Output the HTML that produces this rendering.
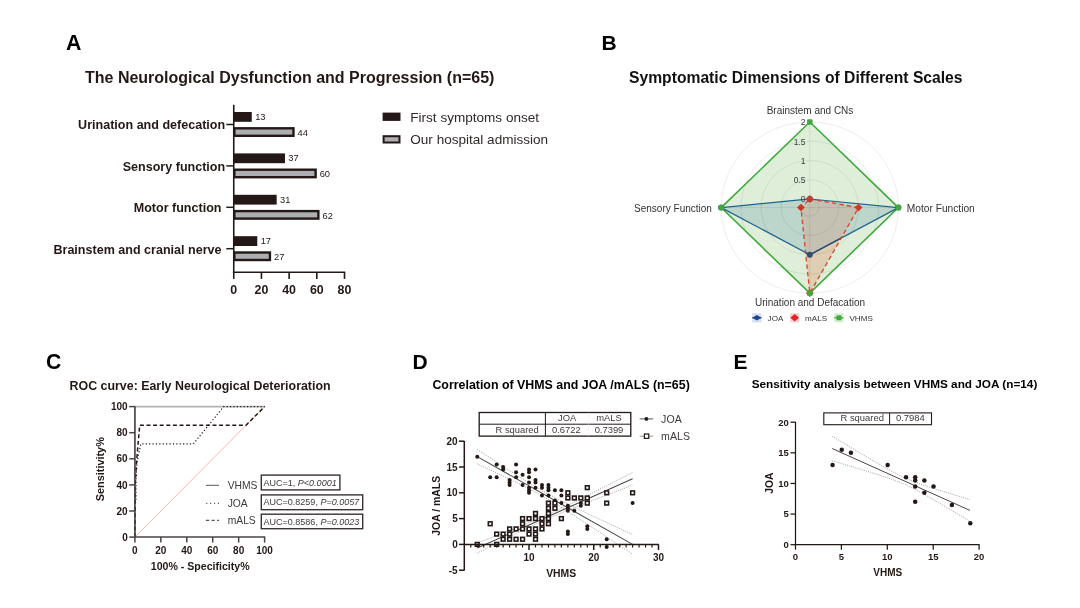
<!DOCTYPE html>
<html><head><meta charset="utf-8"><title>Figure</title>
<style>
html,body{margin:0;padding:0;background:#fff;width:1080px;height:608px;overflow:hidden}
svg{display:block;will-change:transform;filter:blur(0.35px)}
text{font-family:'Liberation Sans', Arial, sans-serif}
</style></head><body>
<svg width="1080" height="608" viewBox="0 0 1080 608">
<rect width="1080" height="608" fill="#fff"/>
<text x="65.90" y="50.20" font-size="21.3" font-weight="bold" fill="#000">A</text>
<text x="85.00" y="83.30" font-size="16" font-weight="bold" fill="#231815">The Neurological Dysfunction and Progression (n=65)</text>
<text x="225.20" y="128.80" font-size="12.55" font-weight="bold" text-anchor="end" fill="#231815">Urination and defecation</text>
<line x1="226.30" y1="124.50" x2="233.75" y2="124.50" stroke="#231815" stroke-width="1.5"/>
<rect x="233.75" y="112.00" width="18.00" height="9.80" fill="#231815" stroke="none" stroke-width="0"/>
<text x="255.15" y="119.90" font-size="9.3" fill="#231815">13</text>
<rect x="234.35" y="128.30" width="59.11" height="7.50" fill="#adaeb2" stroke="#231815" stroke-width="2.4"/>
<text x="297.56" y="135.80" font-size="9.3" fill="#231815">44</text>
<text x="225.20" y="170.80" font-size="12.55" font-weight="bold" text-anchor="end" fill="#231815">Sensory function</text>
<line x1="226.30" y1="165.90" x2="233.75" y2="165.90" stroke="#231815" stroke-width="1.5"/>
<rect x="233.75" y="153.40" width="51.22" height="9.80" fill="#231815" stroke="none" stroke-width="0"/>
<text x="288.37" y="161.30" font-size="9.3" fill="#231815">37</text>
<rect x="234.35" y="169.70" width="81.26" height="7.50" fill="#adaeb2" stroke="#231815" stroke-width="2.4"/>
<text x="319.71" y="177.20" font-size="9.3" fill="#231815">60</text>
<text x="221.50" y="211.90" font-size="12.55" font-weight="bold" text-anchor="end" fill="#231815">Motor function</text>
<line x1="226.30" y1="207.30" x2="233.75" y2="207.30" stroke="#231815" stroke-width="1.5"/>
<rect x="233.75" y="194.80" width="42.92" height="9.80" fill="#231815" stroke="none" stroke-width="0"/>
<text x="280.07" y="202.70" font-size="9.3" fill="#231815">31</text>
<rect x="234.35" y="211.10" width="84.03" height="7.50" fill="#adaeb2" stroke="#231815" stroke-width="2.4"/>
<text x="322.48" y="218.60" font-size="9.3" fill="#231815">62</text>
<text x="221.50" y="253.80" font-size="12.55" font-weight="bold" text-anchor="end" fill="#231815">Brainstem and cranial nerve</text>
<line x1="226.30" y1="248.70" x2="233.75" y2="248.70" stroke="#231815" stroke-width="1.5"/>
<rect x="233.75" y="236.20" width="23.53" height="9.80" fill="#231815" stroke="none" stroke-width="0"/>
<text x="260.68" y="244.10" font-size="9.3" fill="#231815">17</text>
<rect x="234.35" y="252.50" width="35.58" height="7.50" fill="#adaeb2" stroke="#231815" stroke-width="2.4"/>
<text x="274.03" y="260.00" font-size="9.3" fill="#231815">27</text>
<line x1="233.75" y1="104.80" x2="233.75" y2="273.00" stroke="#231815" stroke-width="1.6"/>
<line x1="232.95" y1="272.20" x2="345.20" y2="272.20" stroke="#231815" stroke-width="1.6"/>
<line x1="233.75" y1="272.20" x2="233.75" y2="278.90" stroke="#231815" stroke-width="1.6"/>
<text x="233.75" y="293.60" font-size="12.4" font-weight="bold" text-anchor="middle" fill="#231815">0</text>
<line x1="261.44" y1="272.20" x2="261.44" y2="278.90" stroke="#231815" stroke-width="1.6"/>
<text x="261.44" y="293.60" font-size="12.4" font-weight="bold" text-anchor="middle" fill="#231815">20</text>
<line x1="289.13" y1="272.20" x2="289.13" y2="278.90" stroke="#231815" stroke-width="1.6"/>
<text x="289.13" y="293.60" font-size="12.4" font-weight="bold" text-anchor="middle" fill="#231815">40</text>
<line x1="316.81" y1="272.20" x2="316.81" y2="278.90" stroke="#231815" stroke-width="1.6"/>
<text x="316.81" y="293.60" font-size="12.4" font-weight="bold" text-anchor="middle" fill="#231815">60</text>
<line x1="344.50" y1="272.20" x2="344.50" y2="278.90" stroke="#231815" stroke-width="1.6"/>
<text x="344.50" y="293.60" font-size="12.4" font-weight="bold" text-anchor="middle" fill="#231815">80</text>
<rect x="382.60" y="112.60" width="17.90" height="8.30" fill="#231815" stroke="none" stroke-width="0"/>
<text x="410.30" y="121.70" font-size="13.55" fill="#302a29">First symptoms onset</text>
<rect x="383.60" y="136.20" width="15.90" height="6.30" fill="#adaeb2" stroke="#231815" stroke-width="2.0"/>
<text x="410.30" y="144.10" font-size="13.55" fill="#302a29">Our hospital admission</text>
<text x="601.60" y="50.20" font-size="21" font-weight="bold" fill="#000">B</text>
<text x="629.00" y="83.00" font-size="15.68" font-weight="bold" fill="#111">Symptomatic Dimensions of Different Scales</text>
<defs><clipPath id="cpM"><polygon points="809.80,199.00 858.55,207.60 809.80,293.20 800.90,207.60"/></clipPath></defs>
<polygon points="809.80,122.00 898.40,207.60 809.80,293.20 721.20,207.60" fill="#dfeed9"/>
<polygon points="809.80,199.00 898.40,207.60 809.80,254.70 721.20,207.60" fill="#bcd6cc"/>
<polygon points="809.80,199.00 858.55,207.60 809.80,293.20 800.90,207.60" fill="#dfceb2"/>
<polygon points="809.80,199.00 898.40,207.60 809.80,254.70 721.20,207.60" fill="#c4c1b2" clip-path="url(#cpM)"/>
<ellipse cx="809.8" cy="207.6" rx="8.90" ry="8.60" fill="none" stroke="rgba(0,0,0,0.075)" stroke-width="1"/>
<ellipse cx="809.8" cy="207.6" rx="28.82" ry="27.85" fill="none" stroke="rgba(0,0,0,0.075)" stroke-width="1"/>
<ellipse cx="809.8" cy="207.6" rx="48.75" ry="47.10" fill="none" stroke="rgba(0,0,0,0.075)" stroke-width="1"/>
<ellipse cx="809.8" cy="207.6" rx="68.67" ry="66.35" fill="none" stroke="rgba(0,0,0,0.075)" stroke-width="1"/>
<ellipse cx="809.8" cy="207.6" rx="88.60" ry="85.60" fill="none" stroke="rgba(0,0,0,0.075)" stroke-width="1"/>
<line x1="809.80" y1="122.00" x2="809.80" y2="293.20" stroke="rgba(0,0,0,0.075)" stroke-width="1"/>
<line x1="721.20" y1="207.60" x2="898.40" y2="207.60" stroke="rgba(0,0,0,0.075)" stroke-width="1"/>
<polygon points="809.80,122.00 898.40,207.60 809.80,293.20 721.20,207.60" fill="none" stroke="#3faa3c" stroke-width="1.6"/>
<polygon points="809.80,199.00 898.40,207.60 809.80,254.70 721.20,207.60" fill="none" stroke="#1e628c" stroke-width="1.25"/>
<polygon points="809.80,199.00 898.40,207.60 809.80,254.70 721.20,207.60" fill="none" stroke="#2c4b6c" stroke-width="1.25" clip-path="url(#cpM)"/>
<polygon points="809.80,199.00 858.55,207.60 809.80,293.20 800.90,207.60" fill="none" stroke="#d0462f" stroke-width="1.3" stroke-dasharray="4.5,3"/>
<circle cx="809.80" cy="199.00" r="3.0" fill="#2f4f70"/>
<circle cx="898.40" cy="207.60" r="3.0" fill="#2f4f70"/>
<circle cx="809.80" cy="254.70" r="3.0" fill="#2f4f70"/>
<circle cx="721.20" cy="207.60" r="3.0" fill="#2f4f70"/>
<rect x="807.05" y="196.25" width="5.5" height="5.5" fill="#c93a2c" transform="rotate(45 809.80 199.00)"/>
<rect x="855.80" y="204.85" width="5.5" height="5.5" fill="#c93a2c" transform="rotate(45 858.55 207.60)"/>
<rect x="807.05" y="290.45" width="5.5" height="5.5" fill="#c93a2c" transform="rotate(45 809.80 293.20)"/>
<rect x="798.15" y="204.85" width="5.5" height="5.5" fill="#c93a2c" transform="rotate(45 800.90 207.60)"/>
<rect x="807.10" y="119.30" width="5.4" height="5.4" rx="1" fill="#3faa3c"/>
<rect x="895.70" y="204.90" width="5.4" height="5.4" rx="1" fill="#3faa3c"/>
<rect x="807.10" y="290.50" width="5.4" height="5.4" rx="1" fill="#3faa3c"/>
<rect x="718.50" y="204.90" width="5.4" height="5.4" rx="1" fill="#3faa3c"/>
<text x="805.60" y="125.30" font-size="8.5" text-anchor="end" fill="#3a3a3a">2</text>
<text x="805.60" y="144.55" font-size="8.5" text-anchor="end" fill="#3a3a3a">1.5</text>
<text x="805.60" y="163.80" font-size="8.5" text-anchor="end" fill="#3a3a3a">1</text>
<text x="805.60" y="183.05" font-size="8.5" text-anchor="end" fill="#3a3a3a">0.5</text>
<text x="805.60" y="202.30" font-size="8.5" text-anchor="end" fill="#3a3a3a">0</text>
<text x="810.00" y="114.20" font-size="10" text-anchor="middle" fill="#333333">Brainstem and CNs</text>
<text x="906.80" y="211.60" font-size="10.2" fill="#333333">Motor Function</text>
<text x="711.90" y="211.50" font-size="10" text-anchor="end" fill="#333333">Sensory Function</text>
<text x="810.00" y="305.50" font-size="10" text-anchor="middle" fill="#333333">Urination and Defacation</text>
<rect x="752.20" y="313.20" width="9.30" height="9.20" fill="#d6e0ec" stroke="none" stroke-width="0"/>
<line x1="752.20" y1="317.80" x2="761.50" y2="317.80" stroke="#1d438a" stroke-width="1.2"/>
<polygon points="752.4,317.8 756.9,315.0 761.4,317.8 756.9,320.6" fill="#1d438a"/>
<text x="767.60" y="320.70" font-size="8.1" fill="#333333">JOA</text>
<rect x="790.00" y="313.20" width="9.40" height="9.20" fill="#f7d3d3" stroke="none" stroke-width="0"/>
<polygon points="790.4,317.8 794.7,314.1 799.0,317.8 794.7,321.5" fill="#e3242b"/>
<text x="805.10" y="320.70" font-size="8.1" fill="#333333">mALS</text>
<rect x="834.20" y="313.20" width="9.30" height="9.20" fill="#d8eed6" stroke="none" stroke-width="0"/>
<line x1="834.20" y1="317.80" x2="843.50" y2="317.80" stroke="#3faa3c" stroke-width="1.3"/>
<rect x="836.50" y="315.30" width="5.00" height="5.00" fill="#3faa3c" stroke="none" stroke-width="0"/>
<text x="849.40" y="320.70" font-size="8.1" fill="#333333">VHMS</text>
<text x="45.90" y="369.20" font-size="21.2" font-weight="bold" fill="#000">C</text>
<text x="69.60" y="389.90" font-size="12.4" font-weight="bold" fill="#231815">ROC curve: Early Neurological Deterioration</text>
<path d="M134.90,537.10 L264.60,406.60" stroke="#f3a49a" stroke-width="0.8" fill="none"/>
<path d="M134.90,537.10 L134.90,406.60 L264.60,406.60" stroke="#b3b3b3" stroke-width="1.9" fill="none"/>
<path d="M135.94,499.78 L135.94,481.12 L136.98,462.58 L140.74,443.92 L193.26,443.92 L223.74,406.60 L264.60,406.60" stroke="#231815" stroke-width="1.2" fill="none" stroke-dasharray="1.2,2.2"/>
<path d="M134.90,537.10 L135.42,481.12 L136.46,462.58 L139.70,425.26 L246.05,425.26 L264.60,406.60" stroke="#231815" stroke-width="1.5" fill="none" stroke-dasharray="4,2.6"/>
<line x1="134.90" y1="406.00" x2="134.90" y2="537.90" stroke="#4a4443" stroke-width="1.5"/>
<line x1="134.20" y1="537.10" x2="265.30" y2="537.10" stroke="#4a4443" stroke-width="1.5"/>
<line x1="129.20" y1="537.10" x2="134.90" y2="537.10" stroke="#4a4443" stroke-width="1.5"/>
<text x="127.70" y="540.70" font-size="10" font-weight="bold" text-anchor="end" fill="#231815">0</text>
<line x1="134.90" y1="537.10" x2="134.90" y2="542.60" stroke="#4a4443" stroke-width="1.5"/>
<text x="134.90" y="553.80" font-size="10" font-weight="bold" text-anchor="middle" fill="#231815">0</text>
<line x1="129.20" y1="511.00" x2="134.90" y2="511.00" stroke="#4a4443" stroke-width="1.5"/>
<text x="127.70" y="514.60" font-size="10" font-weight="bold" text-anchor="end" fill="#231815">20</text>
<line x1="160.84" y1="537.10" x2="160.84" y2="542.60" stroke="#4a4443" stroke-width="1.5"/>
<text x="160.84" y="553.80" font-size="10" font-weight="bold" text-anchor="middle" fill="#231815">20</text>
<line x1="129.20" y1="484.90" x2="134.90" y2="484.90" stroke="#4a4443" stroke-width="1.5"/>
<text x="127.70" y="488.50" font-size="10" font-weight="bold" text-anchor="end" fill="#231815">40</text>
<line x1="186.78" y1="537.10" x2="186.78" y2="542.60" stroke="#4a4443" stroke-width="1.5"/>
<text x="186.78" y="553.80" font-size="10" font-weight="bold" text-anchor="middle" fill="#231815">40</text>
<line x1="129.20" y1="458.80" x2="134.90" y2="458.80" stroke="#4a4443" stroke-width="1.5"/>
<text x="127.70" y="462.40" font-size="10" font-weight="bold" text-anchor="end" fill="#231815">60</text>
<line x1="212.72" y1="537.10" x2="212.72" y2="542.60" stroke="#4a4443" stroke-width="1.5"/>
<text x="212.72" y="553.80" font-size="10" font-weight="bold" text-anchor="middle" fill="#231815">60</text>
<line x1="129.20" y1="432.70" x2="134.90" y2="432.70" stroke="#4a4443" stroke-width="1.5"/>
<text x="127.70" y="436.30" font-size="10" font-weight="bold" text-anchor="end" fill="#231815">80</text>
<line x1="238.66" y1="537.10" x2="238.66" y2="542.60" stroke="#4a4443" stroke-width="1.5"/>
<text x="238.66" y="553.80" font-size="10" font-weight="bold" text-anchor="middle" fill="#231815">80</text>
<line x1="129.20" y1="406.60" x2="134.90" y2="406.60" stroke="#4a4443" stroke-width="1.5"/>
<text x="127.70" y="410.20" font-size="10" font-weight="bold" text-anchor="end" fill="#231815">100</text>
<line x1="264.60" y1="537.10" x2="264.60" y2="542.60" stroke="#4a4443" stroke-width="1.5"/>
<text x="264.60" y="553.80" font-size="10" font-weight="bold" text-anchor="middle" fill="#231815">100</text>
<text x="200.20" y="569.80" font-size="10.6" font-weight="bold" text-anchor="middle" fill="#231815">100% - Specificity%</text>
<text x="103.60" y="469.20" font-size="10.9" font-weight="bold" text-anchor="middle" fill="#231815" transform="rotate(-90 103.6 469.2)">Sensitivity%</text>
<line x1="205.90" y1="485.30" x2="219.00" y2="485.30" stroke="#555" stroke-width="1.0"/>
<line x1="206.20" y1="503.30" x2="219.00" y2="503.30" stroke="#555" stroke-width="1.2" stroke-dasharray="1.1,2.8"/>
<line x1="205.90" y1="520.40" x2="219.00" y2="520.40" stroke="#555" stroke-width="1.3" stroke-dasharray="3.2,2.4"/>
<text x="227.70" y="489.30" font-size="10.3" fill="#3e3a39">VHMS</text>
<text x="227.70" y="506.80" font-size="10.3" fill="#3e3a39">JOA</text>
<text x="227.70" y="524.10" font-size="10.3" fill="#3e3a39">mALS</text>
<rect x="261.30" y="475.10" width="78.60" height="14.80" fill="none" stroke="#3a3332" stroke-width="1.4"/>
<rect x="261.30" y="494.90" width="101.40" height="14.80" fill="none" stroke="#3a3332" stroke-width="1.4"/>
<rect x="261.30" y="514.20" width="101.40" height="14.50" fill="none" stroke="#3a3332" stroke-width="1.4"/>
<text x="263.60" y="485.60" font-size="9.0" fill="#3e3a39">AUC=1, <tspan font-style="italic">P&lt;0.0001</tspan></text>
<text x="263.60" y="505.40" font-size="9.0" fill="#3e3a39">AUC=0.8259, <tspan font-style="italic">P=0.0057</tspan></text>
<text x="263.60" y="524.60" font-size="9.0" fill="#3e3a39">AUC=0.8586, <tspan font-style="italic">P=0.0023</tspan></text>
<text x="412.40" y="369.00" font-size="21" font-weight="bold" fill="#000">D</text>
<text x="432.40" y="389.40" font-size="12.4" font-weight="bold" fill="#000">Correlation of VHMS and JOA /mALS (n=65)</text>
<rect x="479.20" y="412.50" width="151.60" height="23.60" fill="none" stroke="#231815" stroke-width="1.3"/>
<line x1="479.20" y1="424.20" x2="630.80" y2="424.20" stroke="#231815" stroke-width="1.0"/>
<line x1="545.40" y1="412.50" x2="545.40" y2="436.10" stroke="#231815" stroke-width="1.0"/>
<line x1="588.60" y1="412.50" x2="588.60" y2="436.10" stroke="#e8e8e8" stroke-width="0.5"/>
<text x="538.80" y="432.70" font-size="9.4" text-anchor="end" fill="#3e3a39">R squared</text>
<text x="567.20" y="421.10" font-size="9.4" text-anchor="middle" fill="#3e3a39">JOA</text>
<text x="609.00" y="421.10" font-size="9.4" text-anchor="middle" fill="#3e3a39">mALS</text>
<text x="566.40" y="432.70" font-size="9.4" text-anchor="middle" fill="#3e3a39">0.6722</text>
<text x="609.00" y="432.70" font-size="9.4" text-anchor="middle" fill="#3e3a39">0.7399</text>
<line x1="639.70" y1="418.90" x2="653.20" y2="418.90" stroke="#555" stroke-width="1.0"/>
<circle cx="646.4" cy="418.9" r="1.9" fill="#231815"/>
<text x="661.10" y="423.10" font-size="10.6" fill="#3e3a39">JOA</text>
<line x1="639.70" y1="436.20" x2="653.20" y2="436.20" stroke="#999" stroke-width="1.0"/>
<rect x="644.40" y="434.00" width="4.40" height="4.40" fill="white" stroke="#231815" stroke-width="1.2"/>
<text x="661.10" y="439.80" font-size="10.6" fill="#3e3a39">mALS</text>
<path d="M477.25,449.44 L482.42,452.86 L487.60,456.28 L492.78,459.69 L497.96,463.09 L503.14,466.47 L508.32,469.84 L513.49,473.18 L518.67,476.50 L523.85,479.77 L529.03,482.97 L534.21,486.10 L539.39,489.14 L544.57,492.06 L549.74,494.87 L554.92,497.59 L560.10,500.22 L565.28,502.80 L570.46,505.33 L575.64,507.83 L580.81,510.31 L585.99,512.77 L591.17,515.22 L596.35,517.65 L601.53,520.08 L606.71,522.50 L611.88,524.92 L617.06,527.33 L622.24,529.74 L627.42,532.14 L632.60,534.55" stroke="#8a8a8a" stroke-width="0.8" fill="none" stroke-dasharray="1,1.2"/>
<path d="M477.25,463.88 L482.42,466.30 L487.60,468.73 L492.78,471.17 L497.96,473.61 L503.14,476.07 L508.32,478.55 L513.49,481.05 L518.67,483.58 L523.85,486.16 L529.03,488.80 L534.21,491.51 L539.39,494.32 L544.57,497.25 L549.74,500.28 L554.92,503.41 L560.10,506.62 L565.28,509.89 L570.46,513.20 L575.64,516.54 L580.81,519.91 L585.99,523.30 L591.17,526.70 L596.35,530.11 L601.53,533.52 L606.71,536.95 L611.88,540.38 L617.06,543.81 L622.24,547.25 L627.42,550.69 L632.60,554.13" stroke="#8a8a8a" stroke-width="0.8" fill="none" stroke-dasharray="1,1.2"/>
<path d="M477.25,543.05 L482.42,541.05 L487.60,539.06 L492.78,537.06 L497.96,535.05 L503.14,533.03 L508.32,531.00 L513.49,528.95 L518.67,526.88 L523.85,524.79 L529.03,522.66 L534.21,520.50 L539.39,518.28 L544.57,516.01 L549.74,513.68 L554.92,511.30 L560.10,508.86 L565.28,506.38 L570.46,503.86 L575.64,501.32 L580.81,498.76 L585.99,496.18 L591.17,493.58 L596.35,490.98 L601.53,488.37 L606.71,485.75 L611.88,483.13 L617.06,480.50 L622.24,477.87 L627.42,475.24 L632.60,472.60" stroke="#8a8a8a" stroke-width="0.8" fill="none" stroke-dasharray="1,1.2"/>
<path d="M477.25,553.10 L482.42,550.48 L487.60,547.86 L492.78,545.25 L497.96,542.64 L503.14,540.05 L508.32,537.46 L513.49,534.89 L518.67,532.35 L523.85,529.82 L529.03,527.33 L534.21,524.88 L539.39,522.48 L544.57,520.14 L549.74,517.85 L554.92,515.63 L560.10,513.45 L565.28,511.31 L570.46,509.21 L575.64,507.14 L580.81,505.09 L585.99,503.05 L591.17,501.03 L596.35,499.02 L601.53,497.02 L606.71,495.02 L611.88,493.03 L617.06,491.04 L622.24,489.05 L627.42,487.07 L632.60,485.09" stroke="#8a8a8a" stroke-width="0.8" fill="none" stroke-dasharray="1,1.2"/>
<path d="M477.25,456.66 L632.60,544.34" stroke="#4a4545" stroke-width="1.05" fill="none"/>
<path d="M477.25,548.07 L632.60,478.85" stroke="#4a4545" stroke-width="1.05" fill="none"/>
<circle cx="522.56" cy="518.60" r="2.0" fill="#231815"/>
<circle cx="477.25" cy="456.68" r="2.0" fill="#231815"/>
<circle cx="490.19" cy="477.32" r="2.0" fill="#231815"/>
<circle cx="496.67" cy="464.42" r="2.0" fill="#231815"/>
<circle cx="496.67" cy="477.32" r="2.0" fill="#231815"/>
<circle cx="503.14" cy="467.00" r="2.0" fill="#231815"/>
<circle cx="503.14" cy="469.58" r="2.0" fill="#231815"/>
<circle cx="509.61" cy="479.90" r="2.0" fill="#231815"/>
<circle cx="509.61" cy="482.48" r="2.0" fill="#231815"/>
<circle cx="509.61" cy="485.06" r="2.0" fill="#231815"/>
<circle cx="516.08" cy="464.42" r="2.0" fill="#231815"/>
<circle cx="516.08" cy="472.16" r="2.0" fill="#231815"/>
<circle cx="516.08" cy="477.32" r="2.0" fill="#231815"/>
<circle cx="522.56" cy="474.74" r="2.0" fill="#231815"/>
<circle cx="522.56" cy="485.06" r="2.0" fill="#231815"/>
<circle cx="529.03" cy="469.58" r="2.0" fill="#231815"/>
<circle cx="529.03" cy="472.16" r="2.0" fill="#231815"/>
<circle cx="529.03" cy="477.32" r="2.0" fill="#231815"/>
<circle cx="529.03" cy="482.48" r="2.0" fill="#231815"/>
<circle cx="529.03" cy="487.64" r="2.0" fill="#231815"/>
<circle cx="529.03" cy="490.22" r="2.0" fill="#231815"/>
<circle cx="529.03" cy="492.80" r="2.0" fill="#231815"/>
<circle cx="535.50" cy="469.58" r="2.0" fill="#231815"/>
<circle cx="535.50" cy="479.90" r="2.0" fill="#231815"/>
<circle cx="535.50" cy="482.48" r="2.0" fill="#231815"/>
<circle cx="535.50" cy="487.64" r="2.0" fill="#231815"/>
<circle cx="541.98" cy="485.06" r="2.0" fill="#231815"/>
<circle cx="541.98" cy="487.64" r="2.0" fill="#231815"/>
<circle cx="541.98" cy="495.38" r="2.0" fill="#231815"/>
<circle cx="548.45" cy="485.06" r="2.0" fill="#231815"/>
<circle cx="548.45" cy="487.64" r="2.0" fill="#231815"/>
<circle cx="548.45" cy="490.22" r="2.0" fill="#231815"/>
<circle cx="548.45" cy="495.38" r="2.0" fill="#231815"/>
<circle cx="554.92" cy="490.22" r="2.0" fill="#231815"/>
<circle cx="554.92" cy="500.54" r="2.0" fill="#231815"/>
<circle cx="561.39" cy="490.22" r="2.0" fill="#231815"/>
<circle cx="561.39" cy="495.38" r="2.0" fill="#231815"/>
<circle cx="561.39" cy="503.12" r="2.0" fill="#231815"/>
<circle cx="567.87" cy="505.70" r="2.0" fill="#231815"/>
<circle cx="567.87" cy="508.28" r="2.0" fill="#231815"/>
<circle cx="567.87" cy="510.86" r="2.0" fill="#231815"/>
<circle cx="567.87" cy="531.50" r="2.0" fill="#231815"/>
<circle cx="567.87" cy="534.08" r="2.0" fill="#231815"/>
<circle cx="574.34" cy="510.86" r="2.0" fill="#231815"/>
<circle cx="580.81" cy="503.12" r="2.0" fill="#231815"/>
<circle cx="580.81" cy="505.70" r="2.0" fill="#231815"/>
<circle cx="587.29" cy="526.34" r="2.0" fill="#231815"/>
<circle cx="587.29" cy="528.92" r="2.0" fill="#231815"/>
<circle cx="606.71" cy="539.24" r="2.0" fill="#231815"/>
<circle cx="606.71" cy="546.98" r="2.0" fill="#231815"/>
<circle cx="632.60" cy="503.12" r="2.0" fill="#231815"/>
<rect x="475.40" y="542.55" width="3.7" height="3.7" fill="white" stroke="#231815" stroke-width="1.6"/>
<rect x="488.34" y="521.91" width="3.7" height="3.7" fill="white" stroke="#231815" stroke-width="1.6"/>
<rect x="494.81" y="532.23" width="3.7" height="3.7" fill="white" stroke="#231815" stroke-width="1.6"/>
<rect x="494.81" y="542.55" width="3.7" height="3.7" fill="white" stroke="#231815" stroke-width="1.6"/>
<rect x="501.29" y="532.23" width="3.7" height="3.7" fill="white" stroke="#231815" stroke-width="1.6"/>
<rect x="501.29" y="537.39" width="3.7" height="3.7" fill="white" stroke="#231815" stroke-width="1.6"/>
<rect x="507.76" y="527.07" width="3.7" height="3.7" fill="white" stroke="#231815" stroke-width="1.6"/>
<rect x="507.76" y="532.23" width="3.7" height="3.7" fill="white" stroke="#231815" stroke-width="1.6"/>
<rect x="507.76" y="537.39" width="3.7" height="3.7" fill="white" stroke="#231815" stroke-width="1.6"/>
<rect x="514.23" y="527.07" width="3.7" height="3.7" fill="white" stroke="#231815" stroke-width="1.6"/>
<rect x="514.23" y="537.39" width="3.7" height="3.7" fill="white" stroke="#231815" stroke-width="1.6"/>
<rect x="520.71" y="516.75" width="3.7" height="3.7" fill="white" stroke="#231815" stroke-width="1.6"/>
<rect x="520.71" y="521.91" width="3.7" height="3.7" fill="white" stroke="#231815" stroke-width="1.6"/>
<rect x="520.71" y="527.07" width="3.7" height="3.7" fill="white" stroke="#231815" stroke-width="1.6"/>
<rect x="520.71" y="537.39" width="3.7" height="3.7" fill="white" stroke="#231815" stroke-width="1.6"/>
<rect x="527.18" y="516.75" width="3.7" height="3.7" fill="white" stroke="#231815" stroke-width="1.6"/>
<rect x="527.18" y="527.07" width="3.7" height="3.7" fill="white" stroke="#231815" stroke-width="1.6"/>
<rect x="527.18" y="532.23" width="3.7" height="3.7" fill="white" stroke="#231815" stroke-width="1.6"/>
<rect x="533.65" y="511.59" width="3.7" height="3.7" fill="white" stroke="#231815" stroke-width="1.6"/>
<rect x="533.65" y="516.75" width="3.7" height="3.7" fill="white" stroke="#231815" stroke-width="1.6"/>
<rect x="533.65" y="527.07" width="3.7" height="3.7" fill="white" stroke="#231815" stroke-width="1.6"/>
<rect x="533.65" y="532.23" width="3.7" height="3.7" fill="white" stroke="#231815" stroke-width="1.6"/>
<rect x="533.65" y="537.39" width="3.7" height="3.7" fill="white" stroke="#231815" stroke-width="1.6"/>
<rect x="540.13" y="516.75" width="3.7" height="3.7" fill="white" stroke="#231815" stroke-width="1.6"/>
<rect x="540.13" y="521.91" width="3.7" height="3.7" fill="white" stroke="#231815" stroke-width="1.6"/>
<rect x="540.13" y="527.07" width="3.7" height="3.7" fill="white" stroke="#231815" stroke-width="1.6"/>
<rect x="546.60" y="501.27" width="3.7" height="3.7" fill="white" stroke="#231815" stroke-width="1.6"/>
<rect x="546.60" y="506.43" width="3.7" height="3.7" fill="white" stroke="#231815" stroke-width="1.6"/>
<rect x="546.60" y="511.59" width="3.7" height="3.7" fill="white" stroke="#231815" stroke-width="1.6"/>
<rect x="546.60" y="516.75" width="3.7" height="3.7" fill="white" stroke="#231815" stroke-width="1.6"/>
<rect x="546.60" y="521.91" width="3.7" height="3.7" fill="white" stroke="#231815" stroke-width="1.6"/>
<rect x="553.07" y="501.27" width="3.7" height="3.7" fill="white" stroke="#231815" stroke-width="1.6"/>
<rect x="553.07" y="506.43" width="3.7" height="3.7" fill="white" stroke="#231815" stroke-width="1.6"/>
<rect x="559.54" y="516.75" width="3.7" height="3.7" fill="white" stroke="#231815" stroke-width="1.6"/>
<rect x="566.02" y="490.95" width="3.7" height="3.7" fill="white" stroke="#231815" stroke-width="1.6"/>
<rect x="566.02" y="496.11" width="3.7" height="3.7" fill="white" stroke="#231815" stroke-width="1.6"/>
<rect x="572.49" y="496.11" width="3.7" height="3.7" fill="white" stroke="#231815" stroke-width="1.6"/>
<rect x="578.96" y="496.11" width="3.7" height="3.7" fill="white" stroke="#231815" stroke-width="1.6"/>
<rect x="585.44" y="485.79" width="3.7" height="3.7" fill="white" stroke="#231815" stroke-width="1.6"/>
<rect x="585.44" y="496.11" width="3.7" height="3.7" fill="white" stroke="#231815" stroke-width="1.6"/>
<rect x="585.44" y="501.27" width="3.7" height="3.7" fill="white" stroke="#231815" stroke-width="1.6"/>
<rect x="604.86" y="490.95" width="3.7" height="3.7" fill="white" stroke="#231815" stroke-width="1.6"/>
<rect x="604.86" y="501.27" width="3.7" height="3.7" fill="white" stroke="#231815" stroke-width="1.6"/>
<rect x="630.75" y="490.95" width="3.7" height="3.7" fill="white" stroke="#231815" stroke-width="1.6"/>
<line x1="464.30" y1="441.00" x2="464.30" y2="570.60" stroke="#231815" stroke-width="1.5"/>
<line x1="459.00" y1="441.20" x2="464.30" y2="441.20" stroke="#231815" stroke-width="1.5"/>
<text x="457.70" y="444.80" font-size="10" font-weight="bold" text-anchor="end" fill="#231815">20</text>
<line x1="459.00" y1="467.00" x2="464.30" y2="467.00" stroke="#231815" stroke-width="1.5"/>
<text x="457.70" y="470.60" font-size="10" font-weight="bold" text-anchor="end" fill="#231815">15</text>
<line x1="459.00" y1="492.80" x2="464.30" y2="492.80" stroke="#231815" stroke-width="1.5"/>
<text x="457.70" y="496.40" font-size="10" font-weight="bold" text-anchor="end" fill="#231815">10</text>
<line x1="459.00" y1="518.60" x2="464.30" y2="518.60" stroke="#231815" stroke-width="1.5"/>
<text x="457.70" y="522.20" font-size="10" font-weight="bold" text-anchor="end" fill="#231815">5</text>
<line x1="459.00" y1="544.40" x2="464.30" y2="544.40" stroke="#231815" stroke-width="1.5"/>
<text x="457.70" y="548.00" font-size="10" font-weight="bold" text-anchor="end" fill="#231815">0</text>
<line x1="459.00" y1="570.20" x2="464.30" y2="570.20" stroke="#231815" stroke-width="1.5"/>
<text x="457.70" y="573.80" font-size="10" font-weight="bold" text-anchor="end" fill="#231815">-5</text>
<line x1="464.30" y1="544.40" x2="658.90" y2="544.40" stroke="#231815" stroke-width="1.5"/>
<line x1="470.77" y1="544.40" x2="470.77" y2="547.50" stroke="#231815" stroke-width="1.2"/>
<line x1="477.25" y1="544.40" x2="477.25" y2="547.50" stroke="#231815" stroke-width="1.2"/>
<line x1="483.72" y1="544.40" x2="483.72" y2="547.50" stroke="#231815" stroke-width="1.2"/>
<line x1="490.19" y1="544.40" x2="490.19" y2="547.50" stroke="#231815" stroke-width="1.2"/>
<line x1="496.67" y1="544.40" x2="496.67" y2="547.50" stroke="#231815" stroke-width="1.2"/>
<line x1="503.14" y1="544.40" x2="503.14" y2="547.50" stroke="#231815" stroke-width="1.2"/>
<line x1="509.61" y1="544.40" x2="509.61" y2="547.50" stroke="#231815" stroke-width="1.2"/>
<line x1="516.08" y1="544.40" x2="516.08" y2="547.50" stroke="#231815" stroke-width="1.2"/>
<line x1="522.56" y1="544.40" x2="522.56" y2="547.50" stroke="#231815" stroke-width="1.2"/>
<line x1="529.03" y1="544.40" x2="529.03" y2="550.00" stroke="#231815" stroke-width="1.5"/>
<line x1="535.50" y1="544.40" x2="535.50" y2="547.50" stroke="#231815" stroke-width="1.2"/>
<line x1="541.98" y1="544.40" x2="541.98" y2="547.50" stroke="#231815" stroke-width="1.2"/>
<line x1="548.45" y1="544.40" x2="548.45" y2="547.50" stroke="#231815" stroke-width="1.2"/>
<line x1="554.92" y1="544.40" x2="554.92" y2="547.50" stroke="#231815" stroke-width="1.2"/>
<line x1="561.39" y1="544.40" x2="561.39" y2="547.50" stroke="#231815" stroke-width="1.2"/>
<line x1="567.87" y1="544.40" x2="567.87" y2="547.50" stroke="#231815" stroke-width="1.2"/>
<line x1="574.34" y1="544.40" x2="574.34" y2="547.50" stroke="#231815" stroke-width="1.2"/>
<line x1="580.81" y1="544.40" x2="580.81" y2="547.50" stroke="#231815" stroke-width="1.2"/>
<line x1="587.29" y1="544.40" x2="587.29" y2="547.50" stroke="#231815" stroke-width="1.2"/>
<line x1="593.76" y1="544.40" x2="593.76" y2="550.00" stroke="#231815" stroke-width="1.5"/>
<line x1="600.23" y1="544.40" x2="600.23" y2="547.50" stroke="#231815" stroke-width="1.2"/>
<line x1="606.71" y1="544.40" x2="606.71" y2="547.50" stroke="#231815" stroke-width="1.2"/>
<line x1="613.18" y1="544.40" x2="613.18" y2="547.50" stroke="#231815" stroke-width="1.2"/>
<line x1="619.65" y1="544.40" x2="619.65" y2="547.50" stroke="#231815" stroke-width="1.2"/>
<line x1="626.12" y1="544.40" x2="626.12" y2="547.50" stroke="#231815" stroke-width="1.2"/>
<line x1="632.60" y1="544.40" x2="632.60" y2="547.50" stroke="#231815" stroke-width="1.2"/>
<line x1="639.07" y1="544.40" x2="639.07" y2="547.50" stroke="#231815" stroke-width="1.2"/>
<line x1="645.54" y1="544.40" x2="645.54" y2="547.50" stroke="#231815" stroke-width="1.2"/>
<line x1="652.02" y1="544.40" x2="652.02" y2="547.50" stroke="#231815" stroke-width="1.2"/>
<line x1="658.49" y1="544.40" x2="658.49" y2="550.00" stroke="#231815" stroke-width="1.5"/>
<text x="529.03" y="560.90" font-size="10" font-weight="bold" text-anchor="middle" fill="#231815">10</text>
<text x="593.76" y="560.90" font-size="10" font-weight="bold" text-anchor="middle" fill="#231815">20</text>
<text x="658.49" y="560.90" font-size="10" font-weight="bold" text-anchor="middle" fill="#231815">30</text>
<text x="561.20" y="577.00" font-size="10.4" font-weight="bold" text-anchor="middle" fill="#231815">VHMS</text>
<text x="440.20" y="505.80" font-size="10.45" font-weight="bold" text-anchor="middle" fill="#231815" transform="rotate(-90 440.2 505.8)">JOA / mALS</text>
<text x="733.60" y="369.20" font-size="21" font-weight="bold" fill="#000">E</text>
<text x="751.70" y="387.70" font-size="11.77" font-weight="bold" fill="#000">Sensitivity analysis between VHMS and JOA (n=14)</text>
<rect x="823.80" y="412.90" width="107.70" height="11.80" fill="none" stroke="#231815" stroke-width="1.1"/>
<line x1="889.60" y1="412.90" x2="889.60" y2="424.70" stroke="#231815" stroke-width="1.0"/>
<text x="884.00" y="421.40" font-size="9.45" text-anchor="end" fill="#3e3a39">R squared</text>
<text x="910.40" y="421.40" font-size="9.45" text-anchor="middle" fill="#3e3a39">0.7984</text>
<path d="M832.22,436.28 L836.81,439.05 L841.40,441.81 L845.99,444.57 L850.58,447.33 L855.17,450.08 L859.76,452.81 L864.35,455.54 L868.94,458.25 L873.53,460.94 L878.12,463.61 L882.71,466.24 L887.30,468.82 L891.89,471.32 L896.48,473.74 L901.07,476.03 L905.66,478.17 L910.25,480.15 L914.84,481.98 L919.43,483.69 L924.02,485.30 L928.61,486.85 L933.20,488.34 L937.79,489.80 L942.38,491.23 L946.97,492.64 L951.56,494.03 L956.15,495.42 L960.74,496.79 L965.33,498.16 L969.92,499.52" stroke="#8a8a8a" stroke-width="0.8" fill="none" stroke-dasharray="1,1.2"/>
<path d="M832.22,460.82 L836.81,462.17 L841.40,463.53 L845.99,464.89 L850.58,466.26 L855.17,467.63 L859.76,469.02 L864.35,470.41 L868.94,471.83 L873.53,473.26 L878.12,474.71 L882.71,476.21 L887.30,477.75 L891.89,479.36 L896.48,481.07 L901.07,482.90 L905.66,484.88 L910.25,487.02 L914.84,489.31 L919.43,491.73 L924.02,494.24 L928.61,496.82 L933.20,499.45 L937.79,502.11 L942.38,504.80 L946.97,507.51 L951.56,510.24 L956.15,512.98 L960.74,515.72 L965.33,518.48 L969.92,521.24" stroke="#8a8a8a" stroke-width="0.8" fill="none" stroke-dasharray="1,1.2"/>
<line x1="832.22" y1="448.55" x2="969.92" y2="510.38" stroke="#4a4644" stroke-width="1.0"/>
<circle cx="832.57" cy="465.08" r="2.25" fill="#231815"/>
<circle cx="841.75" cy="449.76" r="2.25" fill="#231815"/>
<circle cx="850.93" cy="452.83" r="2.25" fill="#231815"/>
<circle cx="887.65" cy="465.08" r="2.25" fill="#231815"/>
<circle cx="906.01" cy="477.33" r="2.25" fill="#231815"/>
<circle cx="915.19" cy="477.33" r="2.25" fill="#231815"/>
<circle cx="915.19" cy="480.39" r="2.25" fill="#231815"/>
<circle cx="915.19" cy="486.51" r="2.25" fill="#231815"/>
<circle cx="915.19" cy="501.83" r="2.25" fill="#231815"/>
<circle cx="924.37" cy="480.39" r="2.25" fill="#231815"/>
<circle cx="924.37" cy="492.64" r="2.25" fill="#231815"/>
<circle cx="933.55" cy="486.51" r="2.25" fill="#231815"/>
<circle cx="951.91" cy="504.89" r="2.25" fill="#231815"/>
<circle cx="970.27" cy="523.26" r="2.25" fill="#231815"/>
<line x1="795.50" y1="421.80" x2="795.50" y2="545.30" stroke="#231815" stroke-width="1.25"/>
<line x1="794.90" y1="544.70" x2="979.60" y2="544.70" stroke="#231815" stroke-width="1.25"/>
<line x1="790.50" y1="544.70" x2="795.50" y2="544.70" stroke="#231815" stroke-width="1.25"/>
<text x="788.90" y="548.10" font-size="9.5" font-weight="bold" text-anchor="end" fill="#231815">0</text>
<line x1="790.50" y1="514.08" x2="795.50" y2="514.08" stroke="#231815" stroke-width="1.25"/>
<text x="788.90" y="517.48" font-size="9.5" font-weight="bold" text-anchor="end" fill="#231815">5</text>
<line x1="790.50" y1="483.45" x2="795.50" y2="483.45" stroke="#231815" stroke-width="1.25"/>
<text x="788.90" y="486.85" font-size="9.5" font-weight="bold" text-anchor="end" fill="#231815">10</text>
<line x1="790.50" y1="452.83" x2="795.50" y2="452.83" stroke="#231815" stroke-width="1.25"/>
<text x="788.90" y="456.23" font-size="9.5" font-weight="bold" text-anchor="end" fill="#231815">15</text>
<line x1="790.50" y1="422.20" x2="795.50" y2="422.20" stroke="#231815" stroke-width="1.25"/>
<text x="788.90" y="425.60" font-size="9.5" font-weight="bold" text-anchor="end" fill="#231815">20</text>
<line x1="795.50" y1="544.70" x2="795.50" y2="549.70" stroke="#231815" stroke-width="1.25"/>
<text x="795.50" y="560.20" font-size="9.5" font-weight="bold" text-anchor="middle" fill="#231815">0</text>
<line x1="841.40" y1="544.70" x2="841.40" y2="549.70" stroke="#231815" stroke-width="1.25"/>
<text x="841.40" y="560.20" font-size="9.5" font-weight="bold" text-anchor="middle" fill="#231815">5</text>
<line x1="887.30" y1="544.70" x2="887.30" y2="549.70" stroke="#231815" stroke-width="1.25"/>
<text x="887.30" y="560.20" font-size="9.5" font-weight="bold" text-anchor="middle" fill="#231815">10</text>
<line x1="933.20" y1="544.70" x2="933.20" y2="549.70" stroke="#231815" stroke-width="1.25"/>
<text x="933.20" y="560.20" font-size="9.5" font-weight="bold" text-anchor="middle" fill="#231815">15</text>
<line x1="979.10" y1="544.70" x2="979.10" y2="549.70" stroke="#231815" stroke-width="1.25"/>
<text x="979.10" y="560.20" font-size="9.5" font-weight="bold" text-anchor="middle" fill="#231815">20</text>
<text x="887.70" y="575.60" font-size="10.0" font-weight="bold" text-anchor="middle" fill="#231815">VHMS</text>
<text x="773.40" y="483.20" font-size="10.3" font-weight="bold" text-anchor="middle" fill="#231815" transform="rotate(-90 773.4 483.2)">JOA</text>
</svg>
</body></html>
